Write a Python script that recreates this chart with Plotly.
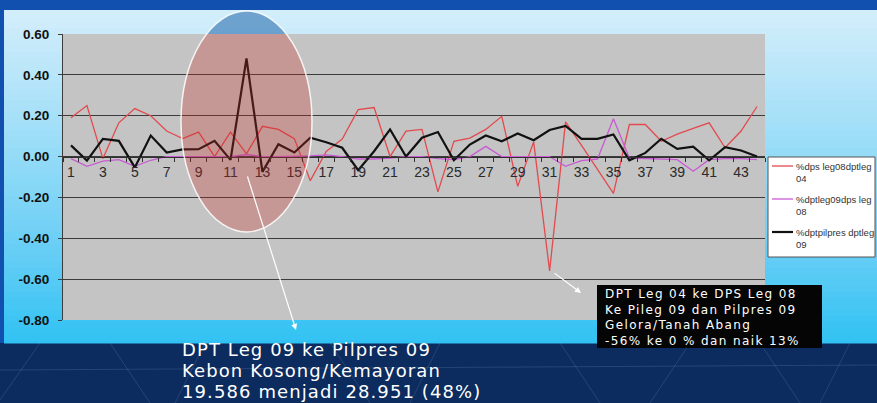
import math
import plotly.graph_objects as go

# ---------------------------------------------------------------- data
categories = list(range(1, 45))

pct_dps_leg08_dpt_leg04 = [
    0.19, 0.25, -0.01, 0.165, 0.235, 0.20, 0.125, 0.088, 0.12, 0.0,
    0.12, 0.013, 0.148, 0.133, 0.088, -0.118, 0.025, 0.086, 0.23, 0.24,
    0.0, 0.125, 0.133, -0.173, 0.075, 0.09, 0.133, 0.197, -0.146, 0.072,
    -0.56, 0.17, 0.055, -0.06, -0.18, 0.157, 0.157, 0.075, 0.11, 0.138,
    0.165, 0.043, 0.125, 0.245,
]
pct_dpt_leg09_dps_leg08 = [
    -0.01, -0.048, -0.022, -0.015, -0.048, -0.018, 0.0, 0.0, 0.0, 0.0,
    0.0, 0.01, 0.0, 0.0, 0.0, 0.003, 0.008, 0.0, -0.012, -0.012,
    -0.008, 0.0, 0.0, -0.01, -0.015, 0.0, 0.05, 0.0, 0.0, 0.0,
    0.0, -0.048, -0.02, -0.012, 0.185, -0.007, -0.01, -0.01, -0.015, -0.072,
    -0.015, -0.01, -0.01, -0.015,
]
pct_dpt_pilpres_dpt_leg09 = [
    0.055, -0.02, 0.087, 0.077, -0.053, 0.103, 0.02, 0.035, 0.036, 0.077,
    -0.016, 0.48, -0.075, 0.06, 0.02, 0.092, 0.07, 0.043, -0.067, 0.026,
    0.133, 0.0, 0.092, 0.12, -0.018, 0.059, 0.103, 0.075, 0.113, 0.08,
    0.13, 0.15, 0.087, 0.087, 0.108, -0.018, 0.018, 0.087, 0.038, 0.048,
    -0.018, 0.046, 0.03, 0.0,
]

series_names = [
    ["%dps leg08dptleg", "04"],
    ["%dptleg09dps leg", "08"],
    ["%dptpilpres dptleg", "09"],
]
series_colors = ["#e24a4e", "#c95ad4", "#111111"]
series_widths = [1.3, 1.3, 2.2]

y_tick_values = [0.6, 0.4, 0.2, 0.0, -0.2, -0.4, -0.6, -0.8]
y_tick_labels = ["0.60", "0.40", "0.20", "0.00", "-0.20", "-0.40", "-0.60", "-0.80"]
x_tick_values = list(range(1, 44, 2))
x_tick_labels = [str(v) for v in x_tick_values]

callout_main = [
    "DPT Leg 09 ke Pilpres 09",
    "Kebon Kosong/Kemayoran",
    "19.586 menjadi 28.951 (48%)",
]
callout_box = [
    "DPT Leg 04 ke DPS Leg 08",
    "Ke Pileg 09 dan Pilpres 09",
    "Gelora/Tanah Abang",
    "-56% ke 0 % dan naik 13%",
]

# ---------------------------------------------------------------- geometry
W, H = 877, 403
PL, PR, PT, PB = 63, 765, 34, 320          # plot area in pixels
Y_MIN, Y_MAX = -0.8, 0.6


def fx(px):
    return (px - PL) / (PR - PL)


def fy(py):
    return (PB - py) / (PB - PT)


def lerp_color(stops, y):
    for (y0, c0), (y1, c1) in zip(stops, stops[1:]):
        if y0 <= y <= y1:
            t = (y - y0) / (y1 - y0)
            c = [round(a + (b - a) * t) for a, b in zip(c0, c1)]
            return "rgb(%d,%d,%d)" % tuple(c)
    return "rgb(%d,%d,%d)" % tuple(stops[-1][1])


def ellipse_path(cx, cy, rx, ry, clip_top=None, clip_bottom=None, n=160):
    pts = []
    for k in range(n):
        t = 2 * math.pi * k / n
        x = cx + rx * math.cos(t)
        y = cy + ry * math.sin(t)
        if clip_top is not None:
            y = max(y, clip_top)
        if clip_bottom is not None:
            y = min(y, clip_bottom)
        pts.append("%.5f,%.5f" % (fx(x), fy(y)))
    return "M" + " L".join(pts) + " Z"


shapes = []

# slide frame: dark blue top band and left edge
shapes.append(dict(type="rect", xref="paper", yref="paper", layer="below",
                   x0=fx(0), x1=fx(W), y0=fy(0), y1=fy(10),
                   fillcolor="#1150ae", line_width=0))
shapes.append(dict(type="rect", xref="paper", yref="paper", layer="below",
                   x0=fx(0), x1=fx(4), y0=fy(0), y1=fy(343),
                   fillcolor="#1150ae", line_width=0))

# chart area: vertical light-blue gradient
grad_stops = [(10, (212, 238, 251)), (120, (165, 224, 248)),
              (250, (104, 206, 245)), (343, (48, 194, 243))]
band = 6
yy = 10
while yy < 343:
    y2 = min(yy + band, 343)
    shapes.append(dict(type="rect", xref="paper", yref="paper", layer="below",
                       x0=fx(4), x1=fx(W), y0=fy(yy), y1=fy(y2 + 0.5),
                       fillcolor=lerp_color(grad_stops, (yy + y2) / 2),
                       line_width=0))
    yy = y2

# gray plot area
shapes.append(dict(type="rect", xref="paper", yref="paper", layer="below",
                   x0=0, x1=1, y0=0, y1=1, fillcolor="#c4c4c4", line_width=0))

# faint perspective lines on the dark slide background
for x0, y0, x1, y1 in [(40, 343, 0, 400), (110, 343, 150, 403), (205, 343, 175, 403),
                       (330, 343, 370, 403), (440, 343, 410, 403), (560, 343, 600, 403),
                       (690, 343, 650, 403), (760, 343, 800, 403), (850, 343, 820, 403),
                       (0, 370, 877, 365)]:
    shapes.append(dict(type="line", xref="paper", yref="paper", layer="below",
                       x0=fx(x0), x1=fx(x1), y0=fy(y0), y1=fy(y1),
                       line=dict(color="rgba(150,190,240,0.18)", width=1)))

# highlight ellipse around district 12 (bluish above the plot, reddish inside it)
ECX, ECY, ERX, ERY = 246.5, 121.5, 65.5, 110.5
shapes.append(dict(type="path", xref="paper", yref="paper", layer="above",
                   path=ellipse_path(ECX, ECY, ERX, ERY, clip_bottom=PT),
                   fillcolor="rgba(30,100,170,0.55)", line_width=0))
shapes.append(dict(type="path", xref="paper", yref="paper", layer="above",
                   path=ellipse_path(ECX, ECY, ERX, ERY, clip_top=PT),
                   fillcolor="rgba(200,45,40,0.30)", line_width=0))
shapes.append(dict(type="circle", xref="paper", yref="paper", layer="above",
                   x0=fx(ECX - ERX), x1=fx(ECX + ERX), y0=fy(ECY + ERY), y1=fy(ECY - ERY),
                   fillcolor="rgba(0,0,0,0)",
                   line=dict(color="rgba(255,255,255,0.85)", width=1.5)))

# black callout box
shapes.append(dict(type="rect", xref="paper", yref="paper", layer="above",
                   x0=fx(597), x1=fx(822), y0=fy(348), y1=fy(285),
                   fillcolor="#050505", line_width=0))

# legend box with line samples
LEG_X0, LEG_X1, LEG_Y0, LEG_Y1 = 768, 875, 157, 257
shapes.append(dict(type="rect", xref="paper", yref="paper", layer="above",
                   x0=fx(LEG_X0), x1=fx(LEG_X1), y0=fy(LEG_Y1), y1=fy(LEG_Y0),
                   fillcolor="white", line=dict(color="#555555", width=1)))
for i, (col, wid) in enumerate(zip(series_colors, series_widths)):
    ly = 166 + 33 * i
    shapes.append(dict(type="line", xref="paper", yref="paper", layer="above",
                       x0=fx(772), x1=fx(793), y0=fy(ly), y1=fy(ly),
                       line=dict(color=col, width=wid)))

# ---------------------------------------------------------------- traces
fig = go.Figure()
series_values = [pct_dps_leg08_dpt_leg04, pct_dpt_leg09_dps_leg08, pct_dpt_pilpres_dpt_leg09]
for vals, name, col, wid in zip(series_values, series_names, series_colors, series_widths):
    fig.add_trace(go.Scatter(x=categories, y=vals, mode="lines", name=" ".join(name),
                             line=dict(color=col, width=wid), showlegend=False))

# ---------------------------------------------------------------- annotations
annotations = []

# arrows
annotations.append(dict(xref="paper", yref="paper", x=fx(296), y=fy(330), text="",
                        showarrow=True, axref="pixel", ayref="pixel", ax=-49, ay=-155,
                        arrowcolor="white", arrowwidth=1.2, arrowhead=2, arrowsize=1))
annotations.append(dict(xref="paper", yref="paper", x=fx(581), y=fy(293), text="",
                        showarrow=True, axref="pixel", ayref="pixel", ax=-28, ay=-21,
                        arrowcolor="white", arrowwidth=1.2, arrowhead=2, arrowsize=1))

# large callout text
for i, line in enumerate(callout_main):
    annotations.append(dict(xref="paper", yref="paper", x=fx(180), y=fy(349 + 21 * i),
                            xanchor="left", yanchor="middle", showarrow=False,
                            text="<span style='letter-spacing:1.1px'>%s</span>" % line,
                            font=dict(family="DejaVu Sans", size=18, color="white")))

# boxed callout text
annotations.append(dict(xref="paper", yref="paper", x=fx(603), y=fy(317.5),
                        xanchor="left", yanchor="middle", showarrow=False, align="left",
                        text="<br>".join("<span style='letter-spacing:1.4px'>%s</span>" % s
                                         for s in callout_box),
                        font=dict(family="DejaVu Sans", size=12, color="white")))

# legend labels
for i, name in enumerate(series_names):
    annotations.append(dict(xref="paper", yref="paper", x=fx(794), y=fy(159 + 33 * i),
                            xanchor="left", yanchor="top", showarrow=False, align="left",
                            text="<br>".join(name),
                            font=dict(family="Liberation Sans, Arial", size=9.5,
                                      color="#333333")))

zero_pos = (0 - Y_MIN) / (Y_MAX - Y_MIN)

fig.update_layout(
    width=W, height=H,
    margin=dict(l=PL, r=W - PR, t=PT, b=H - PB, pad=0, autoexpand=False),
    paper_bgcolor="#0c2b5e",
    plot_bgcolor="rgba(0,0,0,0)",
    shapes=shapes,
    annotations=annotations,
    showlegend=False,
    xaxis=dict(range=[0.5, 44.5], tickmode="array", tickvals=x_tick_values,
               ticktext=x_tick_labels, anchor="free", position=zero_pos,
               showline=True, linecolor="#303030", linewidth=1,
               ticks="outside", ticklen=0, showgrid=False, zeroline=False,
               ticklabelstandoff=3,
               tickfont=dict(family="Liberation Sans, Arial", size=14, color="#2a2a2a"),
               minor=dict(tickmode="linear", tick0=0.5, dtick=1, ticks="outside",
                          ticklen=4, tickcolor="#303030", showgrid=False)),
    yaxis=dict(range=[Y_MIN, Y_MAX], tickmode="array", tickvals=y_tick_values,
               ticktext=y_tick_labels, showgrid=True, gridcolor="#3c3c3c", gridwidth=1,
               showline=True, linecolor="#3c3c3c", linewidth=1,
               ticks="outside", ticklen=4, tickcolor="#3c3c3c", zeroline=False,
               ticklabelstandoff=6,
               tickfont=dict(family="Liberation Sans, Arial", size=13.5, color="#111111",
                             weight="bold")),
)

fig.write_html("out.html")
